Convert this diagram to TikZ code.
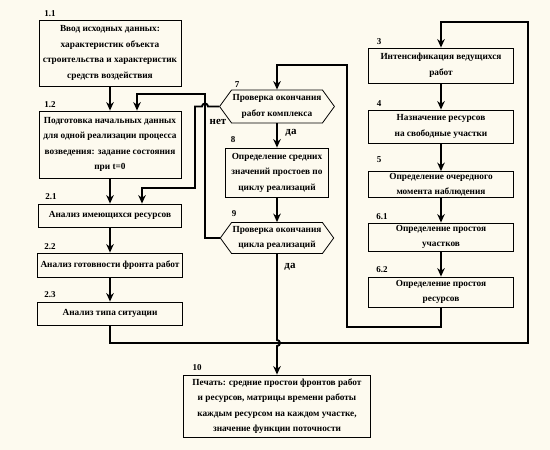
\documentclass[tikz,border=0pt]{standalone}
\usepackage{fontspec}
\setmainfont{Liberation Serif}
\usetikzlibrary{arrows.meta,shapes.symbols}
\definecolor{paper}{RGB}{253,250,239}

\begin{document}
\begin{tikzpicture}[x=1pt,y=-1pt,
  box/.style={draw,line width=0.8pt,align=center,inner sep=1pt,
    font=\bfseries\fontsize{9.3}{15.5}\selectfont},
  hexa/.style={box,signal,signal to=west and east,signal pointer angle=108},
  num/.style={inner sep=0pt,font=\bfseries\fontsize{9}{10}\selectfont},
  ans/.style={num,font=\bfseries\fontsize{11}{12}\selectfont},
  arr/.style={-{Stealth[length=8.5pt,width=7.5pt]},line width=1.9pt}]
\fill[paper] (0,0) rectangle (550,450);
\useasboundingbox (0,0) rectangle (550,450);

% left column
\node[box,minimum width=142pt,minimum height=66pt] (b11) at (110,53)
  {Ввод исходных данных:\\ характеристик объекта\\
   строительства и характеристик\\ средств воздействия};
\node[box,minimum width=142pt,minimum height=67pt] (b12) at (110,144.5)
  {Подготовка начальных данных\\ для одной реализации процесса\\
   возведения: задание состояния\\ при t=0};
\node[box,minimum width=143pt,minimum height=23pt] (b21) at (110,215.5)
  {Анализ имеющихся ресурсов};
\node[box,minimum width=145pt,minimum height=24pt] (b22) at (110,265)
  {Анализ готовности фронта работ};
\node[box,minimum width=145pt,minimum height=23pt] (b23) at (110,313.5)
  {Анализ типа ситуации};

% middle column
\node[hexa,minimum width=113pt,minimum height=33pt] (b7) at (277,106.5)
  {Проверка окончания\\ работ комплекса};
\node[box,minimum width=103pt,minimum height=49pt] (b8) at (277,172.5)
  {Определение средних\\ значений простоев по\\ циклу реализаций};
\node[hexa,minimum width=112pt,minimum height=31pt] (b9) at (277,238)
  {Проверка окончания\\ цикла реализаций};

% right column
\node[box,minimum width=145pt,minimum height=35pt] (b3) at (441,65.5)
  {Интенсификация ведущихся\\ работ};
\node[box,minimum width=145pt,minimum height=33pt] (b4) at (441,126.5)
  {Назначение ресурсов\\ на свободные участки};
\node[box,minimum width=145pt,minimum height=26pt] (b5) at (441,184.5)
  {Определение очередного\\ момента наблюдения};
\node[box,minimum width=145pt,minimum height=28pt] (b61) at (441,237)
  {Определение простоя\\ участков};
\node[box,minimum width=145pt,minimum height=30pt] (b62) at (441,292)
  {Определение простоя\\ ресурсов};

\node[box,minimum width=187pt,minimum height=62pt] (b10) at (277,406)
  {Печать: средние простои фронтов работ\\ и ресурсов, матрицы времени работы\\
   каждым ресурсом на каждом участке,\\ значение функции поточности};

% numbers
\node[num] (n11) at (50,14) {1.1};
\node[num] (n12) at (50,105) {1.2};
\node[num] (n21) at (51,197) {2.1};
\node[num] (n22) at (50,247) {2.2};
\node[num] (n23) at (50,295) {2.3};
\node[num] (n7) at (237,85) {7};
\node[num] (n8) at (233,140) {8};
\node[num] (n9) at (234,214) {9};
\node[num] (n3) at (379,42) {3};
\node[num] (n4) at (379,104) {4};
\node[num] (n5) at (379,160) {5};
\node[num] (n61) at (382,217) {6.1};
\node[num] (n62) at (382,270) {6.2};
\node[num] (n10) at (197,368) {10};
\node[ans] (no7) at (218,122) {нет};
\node[ans] (yes7) at (291,133) {да};
\node[ans] (yes9) at (290,267) {да};

\draw[arr] (b11.south) -- (b11.south |- b12.north);
\draw[arr] (b12.south) -- (b12.south |- b21.north);
\draw[arr] (b21.south) -- (b21.south |- b22.north);
\draw[arr] (b22.south) -- (b22.south |- b23.north);
\draw[arr] (b7.south) -- (b8.north);
\draw[arr] (b8.south) -- (b9.north);
\draw[arr] (b3.south) -- (b4.north);
\draw[arr] (b4.south) -- (b5.north);
\draw[arr] (b5.south) -- (b61.north);
\draw[arr] (b61.south) -- (b62.north);
\draw[arr] (b9.west) -| (205,94) -| ([xshift=27pt]b12.north);
\draw[arr] (b7.west) -- (208,106.5) arc[start angle=0,end angle=180,radius=3pt]
  -- (195,106.5) |- (150,188) -| ([xshift=32pt]b21.north);
\draw[arr] (b9.south) -- (277,340) arc[start angle=90,end angle=-90,radius=3pt]
  -- (b10.north);
\draw[arr] (b23.south) |- (528,343) |- (441,22) -- (b3.north);
\draw[arr] (b62.south) |- (347,327) |- (277,65) -- (b7.north);
\end{tikzpicture}
\end{document}
